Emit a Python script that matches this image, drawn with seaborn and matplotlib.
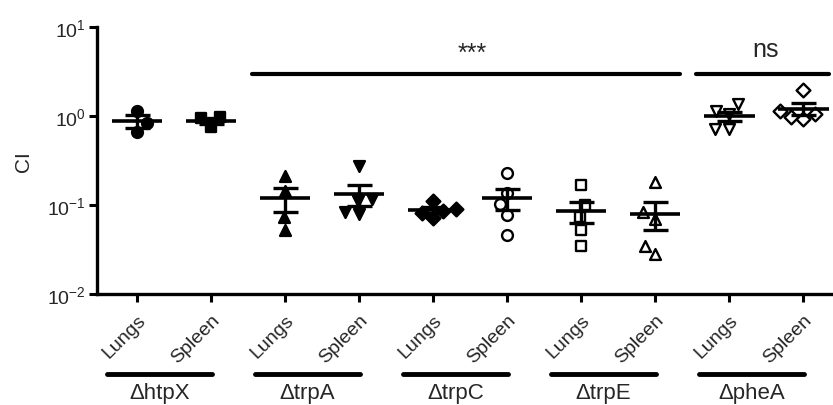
"""
Competitive index (CI) of deletion mutants in lungs and spleen.
Column scatter with mean +/- SEM on a log axis.
"""
import numpy as np
import pandas as pd
import matplotlib
matplotlib.use("Agg")
import matplotlib.pyplot as plt
import matplotlib.transforms as mtransforms
import seaborn as sns

STRAINS = ["\u0394htpX", "\u0394trpA", "\u0394trpC", "\u0394trpE", "\u0394pheA"]
ORGANS = ["Lungs", "Spleen"]

htpX_lungs = [1.14, 0.83, 0.66]
htpX_spleen = [0.97, 0.75, 0.95]
trpA_lungs = [0.212, 0.144, 0.073, 0.052]
trpA_spleen = [0.274, 0.111, 0.117, 0.079, 0.083]
trpC_lungs = [0.111, 0.071, 0.086, 0.081, 0.090]
trpC_spleen = [0.229, 0.137, 0.103, 0.077, 0.046]
trpE_lungs = [0.168, 0.100, 0.073, 0.052, 0.035]
trpE_spleen = [0.181, 0.083, 0.070, 0.028, 0.035]
pheA_lungs = [1.36, 1.14, 1.05, 0.71, 0.71]
pheA_spleen = [1.96, 1.05, 0.93, 0.97, 1.14]

GROUP_VALUES = [htpX_lungs, htpX_spleen, trpA_lungs, trpA_spleen,
                trpC_lungs, trpC_spleen, trpE_lungs, trpE_spleen,
                pheA_lungs, pheA_spleen]
MARKERS = ["o", "s", "^", "v", "D", "o", "s", "^", "v", "D"]
FILLED = [True] * 5 + [False] * 5

# significance annotations: (first column, last column, label)
SIG_BARS = [(2, 7, "***"), (8, 9, "ns")]
SIG_Y = 2.96

rows = []
for i, vals in enumerate(GROUP_VALUES):
    for v in vals:
        rows.append({"pos": i, "strain": STRAINS[i // 2],
                     "organ": ORGANS[i % 2], "CI": v})
df = pd.DataFrame(rows)

sns.set_style("ticks")
plt.rcParams["font.family"] = ["Liberation Sans", "DejaVu Sans"]
plt.rcParams["mathtext.fontset"] = "custom"
plt.rcParams["mathtext.rm"] = "Liberation Sans"
plt.rcParams["mathtext.default"] = "regular"

fig = plt.figure(figsize=(8.33, 4.06), dpi=100)
ax = fig.add_axes([97 / 833, 1 - 295 / 406, 736 / 833, 267 / 406])
ax.set_yscale("log")

for i in range(len(GROUP_VALUES)):
    sub = df[df["pos"] == i]
    kw = dict(color="black", edgecolor="black")
    if not FILLED[i]:
        kw["facecolor"] = "white"
    size = 7 if MARKERS[i] == "D" else 7.8
    sns.swarmplot(data=sub, x="pos", y="CI", native_scale=True, ax=ax,
                  marker=MARKERS[i], size=size, linewidth=1.7,
                  zorder=3, **kw)

# mean line and SEM whiskers
for i, vals in enumerate(GROUP_VALUES):
    v = np.array(vals)
    m = v.mean()
    sem = v.std(ddof=1) / np.sqrt(len(v))
    ax.hlines(m, i - 0.34, i + 0.34, color="black", lw=2.6, zorder=4)
    ax.errorbar(i, m, yerr=sem, fmt="none", ecolor="black", elinewidth=2.4,
                capsize=9, capthick=2.4, zorder=4)

ax.set_xlim(-0.54, 9.4)
ax.set_ylim(1e-2, 1e1)
ax.set_xticks(range(10))
ax.set_xticklabels([ORGANS[i % 2] for i in range(10)], rotation=45,
                   ha="right", rotation_mode="anchor", fontsize=14)
for lab in ax.get_xticklabels():
    lab.set_transform(lab.get_transform() + mtransforms.ScaledTranslation(
        10 / 72, 0, fig.dpi_scale_trans))
ax.yaxis.set_minor_locator(matplotlib.ticker.NullLocator())
ax.tick_params(axis="both", which="major", length=6, width=2.2,
               color="black", labelsize=14, pad=2)
ax.tick_params(axis="x", pad=6, labelsize=14)
ax.set_xlabel("")
ax.set_ylabel("CI", fontsize=15, labelpad=10)
sns.despine(ax=ax)
for side in ["left", "bottom"]:
    ax.spines[side].set_linewidth(2.4)
    ax.spines[side].set_color("black")

# significance bars above the columns
for start, end, label in SIG_BARS:
    x0, x1 = start - 0.45, end + 0.34
    ax.plot([x0, x1], [SIG_Y, SIG_Y], color="black", lw=3, clip_on=False)
    if label == "***":
        ax.text(4.53, 4.3, label, ha="center", va="baseline", fontsize=18)
    else:
        ax.text((x0 + x1) / 2 + 0.05, 4.7, label, ha="center",
                va="baseline", fontsize=18)

# strain labels below the organ ticks
trans = mtransforms.blended_transform_factory(ax.transData, ax.transAxes)
for k, name in enumerate(STRAINS):
    c = 2 * k + 0.5 - 0.2
    ax.plot([c - 0.71, c + 0.71], [-0.30, -0.30], color="black", lw=3.5,
            transform=trans, clip_on=False)
    ax.text(c, -0.388, name, ha="center", va="baseline", fontsize=16,
            transform=trans)

fig.savefig("out.png", dpi=100)
